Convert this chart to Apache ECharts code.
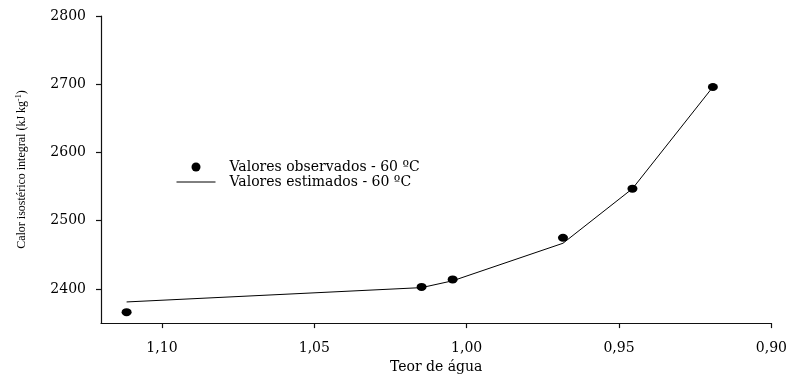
<!DOCTYPE html>
<html>
<head>
<meta charset="utf-8">
<script src="https://cdn.jsdelivr.net/npm/echarts@6/dist/echarts.min.js"></script>
<style>
html,body{margin:0;padding:0;background:#fff;}
#chart{width:790px;height:379px;}
</style>
</head>
<body>
<div id="chart"></div>
<script>
// Data
const moisture = [1.1116, 1.0148, 1.0046, 0.9684, 0.9456, 0.9192];
const observed = [2366, 2403, 2414, 2475, 2547, 2696];
const estimated = [2381, 2402, 2412, 2467, 2547, 2696];
const xTicks = [0.90, 0.95, 1.00, 1.05, 1.10];
const yTicks = [2400, 2500, 2600, 2700, 2800];
const seriesNames = ['Valores observados - 60 ºC', 'Valores estimados - 60 ºC'];

const serif = 'DejaVu Serif';
const chart = echarts.init(document.getElementById('chart'), null, {renderer: 'canvas'});
const obsData = moisture.map((x, i) => [x, observed[i]]);
const estData = moisture.map((x, i) => [x, estimated[i]]);

chart.setOption({
  animation: false,
  backgroundColor: '#fff',
  grid: {left: 101, right: 16, top: 16, bottom: 55, containLabel: false},
  legend: {
    orient: 'vertical',
    left: 171,
    top: 154.5,
    itemWidth: 39,
    itemHeight: 9,
    itemGap: 0,
    textStyle: {fontFamily: serif, fontSize: 14, color: '#000', lineHeight: 15, padding: [0, 0, 0, 9]},
    data: [
      {name: seriesNames[0], icon: 'circle', itemStyle: {color: '#000', opacity: 1}},
      {name: seriesNames[1], itemStyle: {opacity: 0}, lineStyle: {color: '#000', width: 1}}
    ]
  },
  xAxis: {
    type: 'value',
    inverse: true,
    min: 0.90,
    max: 1.12,
    interval: 0.05,
    name: 'Teor de água',
    nameLocation: 'middle',
    nameGap: 35,
    nameTextStyle: {fontFamily: serif, fontSize: 14, color: '#000'},
    axisLine: {show: true, onZero: false, lineStyle: {color: '#111', width: 1.2}},
    axisTick: {show: true, length: 5, lineStyle: {color: '#111', width: 1.2}, customValues: xTicks},
    axisLabel: {
      customValues: xTicks,
      margin: 18,
      fontFamily: serif, fontSize: 14, color: '#000',
      formatter: v => v.toFixed(2).replace('.', ',')
    },
    splitLine: {show: false}
  },
  yAxis: {
    type: 'value',
    min: 2350,
    max: 2800,
    name: 'Calor isostérico integral (kJ kg{sup|-1})',
    nameLocation: 'middle',
    nameGap: 72,
    nameTextStyle: {
      fontFamily: 'Liberation Serif', fontSize: 12, color: '#000', lineHeight: 14,
      rich: {sup: {fontFamily: 'Liberation Serif', fontSize: 8, lineHeight: 8, verticalAlign: 'top', color: '#000'}}
    },
    axisLine: {show: true, lineStyle: {color: '#111', width: 1.2}},
    axisTick: {show: true, length: 5, lineStyle: {color: '#111', width: 1.2}, customValues: yTicks},
    axisLabel: {customValues: yTicks, margin: 15, fontFamily: serif, fontSize: 14, color: '#000',
      formatter: v => String(v)},
    splitLine: {show: false}
  },
  series: [
    {
      name: seriesNames[0],
      type: 'scatter',
      data: obsData,
      symbol: 'circle',
      symbolSize: [10, 8],
      itemStyle: {color: '#000', opacity: 1},
      z: 3
    },
    {
      name: seriesNames[1],
      type: 'line',
      data: estData,
      symbol: 'none',
      lineStyle: {color: '#000', width: 1},
      itemStyle: {color: '#000'},
      z: 2
    }
  ]
});
</script>
</body>
</html>
